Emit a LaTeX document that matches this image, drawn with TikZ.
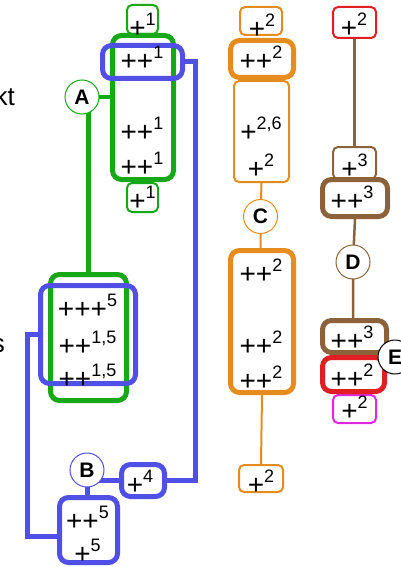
\documentclass[tikz,border=0pt]{standalone}
\usepackage{fontspec}
\setmainfont{Liberation Sans}
\definecolor{cg}{RGB}{22,168,22}
\definecolor{cb}{RGB}{80,80,230}
\definecolor{co}{RGB}{230,140,30}
\definecolor{cbr}{RGB}{140,98,58}
\definecolor{cr}{RGB}{225,30,35}
\definecolor{cm}{RGB}{225,40,225}
\newcommand{\spx}[1]{\raisebox{12pt}{\fontsize{18}{18}\selectfont #1}}
\pgfdeclarelayer{bg}
\pgfsetlayers{bg,main}
\begin{document}
\begin{tikzpicture}[x=1pt,y=-1pt,
  thinbox/.style={draw, line width=2pt, rounded corners=5pt, fill=white, inner sep=0pt},
  thickbox/.style={draw, line width=5pt, rounded corners=9pt, fill=white, inner sep=0pt},
  ringbox/.style={draw, line width=5pt, rounded corners=9pt, inner sep=0pt},
  lbl/.style={anchor=base, inner sep=0pt, font=\fontsize{28}{28}\selectfont},
  circ/.style={circle, draw, line width=1pt, fill=white, minimum size=34pt, inner sep=0pt, font=\bfseries\fontsize{21}{21}\selectfont},
  side/.style={anchor=base east, inner sep=0pt, font=\fontsize{26}{26}\selectfont}]
\useasboundingbox (0,0) rectangle (401,567);

% side texts
\node[side] (kt) at (15,106) {kt};
\node[side] (s) at (5,352) {s};

% green column
\node[thinbox, draw=cg, minimum width=31pt, minimum height=29pt] (g1top) at (142.5,19.5) {};
\node[thinbox, draw=cg, minimum width=31pt, minimum height=29pt] (g1bot) at (142.5,197.5) {};
\node[thickbox, draw=cg, minimum width=61pt, minimum height=144pt] (G1) at (143,107.5) {};
\node[ringbox, draw=cb, minimum width=80pt, minimum height=33pt] (blue1) at (142.5,62) {};
\node[thickbox, draw=cg, minimum width=76pt, minimum height=126pt] (G2) at (88.5,337.5) {};
\node[ringbox, draw=cb, minimum width=95pt, minimum height=98pt] (blue2) at (88,334.5) {};
\node[thickbox, draw=cb, minimum width=58pt, minimum height=65pt] (B2) at (88.5,530) {};
\node[thickbox, draw=cb, minimum width=43pt, minimum height=32pt] (b4) at (143,480.5) {};

% orange column
\node[thinbox, draw=co, minimum width=42pt, minimum height=28pt] (o1) at (261,21) {};
\node[thinbox, draw=co, minimum width=55pt, minimum height=101pt] (o3) at (261.5,131.5) {};
\node[thickbox, draw=co, minimum width=63pt, minimum height=37pt] (o2) at (262,59) {};
\node[thickbox, draw=co, minimum width=63pt, minimum height=142pt] (o4) at (262,321.5) {};
\node[thinbox, draw=co, minimum width=44pt, minimum height=27pt] (o5) at (261,478.5) {};

% brown / red column
\node[thinbox, draw=cr, minimum width=43pt, minimum height=31pt] (r1) at (354.5,22.5) {};
\node[thinbox, draw=cbr, minimum width=43pt, minimum height=32pt] (b3) at (354.5,163) {};
\node[thickbox, draw=cbr, minimum width=65pt, minimum height=37pt] (b3t) at (355,198) {};
\node[thickbox, draw=cbr, minimum width=64pt, minimum height=32pt] (b3l) at (354.5,336.5) {};
\node[thinbox, draw=cm, minimum width=43pt, minimum height=28pt] (m1) at (354.5,409) {};
\node[thickbox, draw=cr, minimum width=62pt, minimum height=34pt] (r2) at (353.5,374.5) {};

% circles
\node[circ, draw=cg] (A) at (82,97) {A};
\node[circ, draw=cb] (B) at (87,470) {B};
\node[circ, draw=co] (C) at (260.5,216.5) {C};
\node[circ, draw=cbr] (D) at (353,262) {D};
\node[circ, draw=black] (E) at (395,357) {E};

% labels
\node[lbl] (tg1) at (142.5,38) {+\spx{1}};
\node[lbl] (tg2) at (142,71) {++\spx{1}};
\node[lbl] (tg3) at (142,141) {++\spx{1}};
\node[lbl] (tg4) at (142,176) {++\spx{1}};
\node[lbl] (tg5) at (142.5,210) {+\spx{1}};
\node[lbl] (th1) at (87.5,318) {+++\spx{5}};
\node[lbl] (th2) at (87.5,355) {++\spx{1,5}};
\node[lbl] (th3) at (87.5,388) {++\spx{1,5}};
\node[lbl] (tb1) at (87.5,530) {++\spx{5}};
\node[lbl] (tb2) at (87.5,563) {+\spx{5}};
\node[lbl] (tb4) at (140,494) {+\spx{4}};
\node[lbl] (to1) at (262,39) {+\spx{2}};
\node[lbl] (to2) at (261,71) {++\spx{2}};
\node[lbl] (to3) at (261,141) {+\spx{2,6}};
\node[lbl] (to4) at (261,178) {+\spx{2}};
\node[lbl] (to5) at (261,283) {++\spx{2}};
\node[lbl] (to6) at (261,355) {++\spx{2}};
\node[lbl] (to7) at (261,390) {++\spx{2}};
\node[lbl] (to8) at (261,494) {+\spx{2}};
\node[lbl] (tr1) at (354,38) {+\spx{2}};
\node[lbl] (tr2) at (354.5,178) {+\spx{3}};
\node[lbl] (tr3) at (352,210) {++\spx{3}};
\node[lbl] (tr4) at (352,350) {++\spx{3}};
\node[lbl] (tr5) at (352,388) {++\spx{2}};
\node[lbl] (tr6) at (354.5,420) {+\spx{2}};

% connectors
\begin{pgfonlayer}{bg}
\draw[cg, line width=4.5pt] (A.center) -- (A.center -| G1.west);
\draw[cg, line width=4.5pt] (G2.north) -- (G2.north |- A.center);
\draw[cb, line width=5pt] (blue2.west) -- ++(-10.5,0) |- ([yshift=-6pt]B2.west);
\draw[cb, line width=5pt] (B.center) -- (B.center |- B2.north);
\draw[cb, line width=5pt] (b4.west) -- (b4.west -| B.center);
\draw[cb, line width=5pt] (b4.east) -- ++(28.5,0) |- (blue1.east);
\draw[co, line width=2pt] (o3.south) -- (C.center) -- (C.center |- o4.north);
\draw[co, line width=2pt] (o4.south) -- (o5.north);
\draw[cbr, line width=2.5pt] (r1.south) -- (b3.north);
\draw[cbr, line width=2.5pt] (b3t.south) -- (D.center) -- (D.center |- b3l.north);
\end{pgfonlayer}
\end{tikzpicture}
\end{document}
